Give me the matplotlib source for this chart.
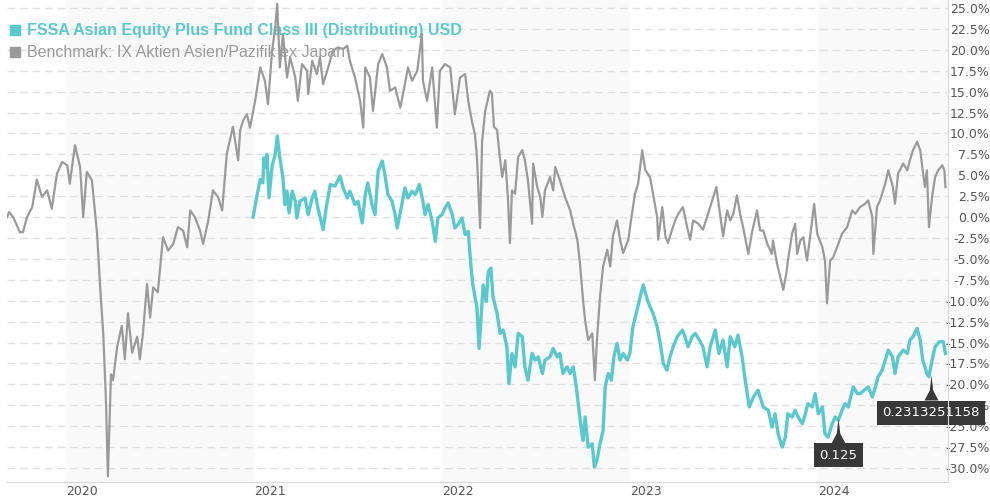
import matplotlib
matplotlib.use('Agg')
import matplotlib.pyplot as plt
from matplotlib.patches import Rectangle
from matplotlib.path import Path
import numpy as np
import pandas as pd

# --- data (performance in %, days counted from start) ---
start = pd.Timestamp('2019-09-09')
end_days = 1828

bench_days = [
    0, 4, 12, 25, 31, 39, 49, 58, 68, 78, 87, 97, 107, 117, 122, 132, 142, 148, 155, 165,
    175, 181, 187, 192, 196, 202, 206, 214, 223, 229, 235, 243, 253, 258, 264, 272, 278, 284, 293, 303,
    313, 323, 332, 342, 350, 356, 365, 375, 381, 391, 400, 410, 418, 427, 439, 449,
    453, 459, 466, 472, 482, 492, 501, 507, 515, 521, 525, 530, 536, 544, 550, 560, 565, 573, 583, 585,
    593, 602, 608, 614, 624, 633, 643, 653, 661, 666, 676, 686, 692, 696, 705, 711, 721, 729, 738, 744,
    754, 764, 773, 779, 787, 797, 806, 808, 816, 826, 835, 841, 851, 861, 870, 880, 890, 896, 903, 909,
    913, 919, 923, 929, 938,
    942, 946, 952, 958, 962, 968, 973, 977, 981, 987, 993, 1001, 1006, 1012, 1020, 1022, 1030, 1036, 1040, 1045,
    1055, 1061, 1065, 1074, 1084, 1094, 1100, 1108, 1113, 1119, 1123, 1129, 1137, 1142, 1146, 1152, 1158, 1166, 1172, 1177,
    1185, 1191, 1197, 1207, 1214, 1220, 1226, 1234, 1240, 1249, 1255, 1263, 1265, 1273, 1279, 1284, 1292, 1298, 1304, 1313,
    1321, 1327, 1333, 1343, 1352, 1362, 1372, 1378, 1385, 1391, 1399, 1405, 1411, 1418,
    1424, 1430, 1440, 1448, 1457, 1463, 1469, 1477, 1486, 1488, 1496, 1502, 1508, 1514, 1517, 1525, 1531, 1535, 1541, 1547,
    1554, 1560, 1568, 1574, 1584, 1589, 1593, 1599, 1605, 1615, 1622, 1632, 1642, 1648, 1657, 1667, 1673, 1681, 1683, 1690,
    1696, 1706, 1712, 1721, 1725, 1731, 1741, 1749, 1754, 1760, 1768, 1774, 1779, 1783, 1787, 1791, 1797, 1803, 1809, 1817,
    1821, 1823,
]
bench_vals = [
    0.0, 0.6, 0.0, -1.8, -1.8, 0.0, 1.2, 4.5, 2.4, 3.2, 1.0, 5.2, 6.6, 6.2, 4.0, 8.6, 6.0, 0.0, 5.4, 4.4,
    -2.0, -8.4, -14.0, -21.5, -31.0, -18.8, -19.5, -15.5, -13.0, -17.0, -11.5, -16.2, -14.3, -17.0, -14.0, -8.0, -12.0, -8.4, -9.0, -2.4,
    -4.0, -3.2, -1.2, -1.6, -3.6, 0.8, 0.0, -1.6, -3.2, -0.4, 3.2, 2.4, 0.8, 7.6, 10.8, 6.8,
    10.4, 11.6, 12.3, 10.7, 13.9, 17.9, 16.3, 13.5, 19.9, 22.7, 25.5, 17.9, 21.9, 16.7, 19.1, 16.7, 13.9, 18.3, 17.5, 14.7,
    18.7, 17.1, 19.1, 15.9, 17.9, 19.9, 20.3, 20.1, 20.5, 18.7, 16.7, 13.9, 10.7, 17.9, 16.7, 12.7, 18.3, 19.5, 17.9, 15.1,
    15.5, 13.1, 15.9, 17.9, 16.3, 17.5, 21.9, 16.3, 13.9, 17.9, 10.7, 17.5, 18.3, 17.9, 12.3, 16.7, 17.1, 13.9, 11.5, 9.9,
    7.1, -1.3, 9.1, 12.7, 15.1,
    14.8, 10.8, 10.4, 6.8, 4.8, 6.8, 2.4, -3.1, 3.2, 2.8, 7.2, 8.0, 6.8, 4.4, -0.8, 6.4, 3.6, 2.4, 0.0, 3.2,
    4.8, 3.2, 6.0, 4.4, 2.4, 0.8, -0.8, -2.7, -5.5, -9.9, -12.3, -14.7, -13.9, -19.5, -14.7, -9.5, -5.9, -3.9, -5.9, -2.3,
    -0.4, -2.7, -4.3, -2.7, 0.4, 2.8, 4.0, 8.0, 5.6, 4.8, 2.8, 0.0, -2.7, 1.2, -2.3, -3.1, -1.5, -0.4, 0.4, 1.2,
    -1.1, -2.7, -0.4, -0.8, -1.5, 0.4, 2.4, 3.6, 0.4, -2.3, 0.8, -0.4, 0.4, 2.6,
    0.4, -1.2, -4.4, -1.6, 0.8, -1.6, -1.6, -3.2, -4.4, -2.8, -5.6, -7.1, -8.7, -6.7, -5.2, -2.0, -0.8, -4.4, -2.8, -2.4,
    -5.2, -2.4, 1.6, -2.0, -3.6, -5.2, -10.3, -5.2, -4.8, -3.2, -2.0, -1.2, 0.8, 0.4, 1.2, 1.6, 2.0, 0.0, -4.4, 1.2,
    2.0, 4.0, 5.6, 3.6, 1.6, 5.2, 6.4, 5.6, 6.8, 8.0, 9.0, 8.0, 5.6, 3.6, 5.6, -1.2, 2.4, 4.8, 5.6, 6.2,
    5.6, 3.6,
]

fund_days = [
    478, 486, 492, 497, 499, 503, 505, 509, 515, 521, 525, 530, 536, 540, 544, 548, 554, 560, 563, 569,
    579, 585, 593, 598, 604, 614, 620, 628, 637, 647, 653, 661, 666, 676, 682, 690, 696, 701, 709, 715,
    721, 729, 734, 740, 748, 754, 758, 767, 773, 779, 787, 793, 801, 808, 812, 818, 826, 832, 837, 845,
    851, 857, 865, 870, 876, 884, 890, 896, 901, 905, 913, 917, 925, 931, 935, 940, 944, 952, 958, 964,
    971, 975, 981, 987, 993, 1001, 1006, 1012, 1020, 1026, 1032, 1040, 1045, 1055, 1061, 1069, 1074, 1080, 1088, 1094,
    1100, 1106, 1109, 1115, 1119, 1123, 1129, 1137, 1141, 1146, 1152, 1158, 1162, 1168, 1174, 1179, 1185, 1191, 1197, 1205,
    1210, 1216, 1224, 1230, 1236, 1244, 1249, 1255, 1263, 1269, 1275, 1282, 1288, 1294, 1302, 1312, 1317, 1323, 1331, 1337,
    1345, 1352, 1360, 1366, 1376, 1383, 1391, 1399, 1405, 1414, 1420, 1428, 1434, 1442, 1450, 1459, 1469, 1479, 1486, 1492,
    1498, 1506, 1512, 1517, 1525, 1531, 1537, 1545, 1551, 1556, 1564, 1570, 1576, 1584, 1589, 1595, 1603, 1609, 1615, 1622,
    1628, 1634, 1644, 1652, 1657, 1665, 1673, 1681, 1687, 1692, 1700, 1706, 1712, 1720, 1725, 1731, 1741, 1749, 1754, 1760,
    1768, 1774, 1779, 1787, 1791, 1797, 1803, 1811, 1819, 1823,
]
fund_vals = [
    0.0, 2.7, 4.5, 4.1, 7.1, 5.9, 7.5, 2.3, 6.1, 7.5, 9.7, 7.1, 4.7, 1.5, 3.1, 0.5, 3.1, 1.9, -0.1, 1.9,
    2.3, 0.3, 2.3, 3.1, 1.1, -1.5, 1.1, 3.9, 3.7, 4.9, 3.5, 2.3, 3.1, 1.5, 1.9, -0.7, 2.7, 4.1, 1.5, 0.3,
    5.5, 6.7, 5.1, 2.7, 1.9, 0.3, -1.3, 1.5, 3.5, 2.3, 3.1, 2.7, 3.9, 1.9, 0.3, 1.5, -0.5, -2.9, -0.1, 0.3,
    1.1, 1.7, 0.3, -1.3, -0.9, -0.1, -2.1, -1.7, -5.7, -8.1, -10.9, -15.7, -8.1, -10.1, -6.5, -6.1, -9.5, -11.5, -13.9, -13.5,
    -15.5, -19.9, -16.3, -17.9, -13.9, -14.3, -17.9, -19.5, -16.3, -17.1, -16.7, -18.7, -17.1, -16.7, -15.7, -16.7, -16.3, -18.7, -17.9, -18.7,
    -17.9, -20.3, -21.9, -25.1, -26.7, -23.9, -27.5, -27.1, -29.9, -29.1, -27.1, -25.5, -20.3, -18.7, -19.5, -16.7, -15.1, -17.1, -16.3, -17.1,
    -16.3, -13.1, -11.1, -9.5, -8.1, -9.9, -10.7, -11.5, -13.1, -15.1, -17.5, -18.3, -16.7, -15.5, -14.3, -13.5, -14.3, -15.5, -14.3, -13.9,
    -14.7, -15.5, -17.9, -15.5, -13.5, -16.3, -14.7, -17.9, -14.3, -15.5, -14.1, -16.7, -19.5, -22.7, -21.5, -20.7, -22.7, -23.1, -25.1, -23.5,
    -25.9, -27.5, -26.3, -23.5, -23.9, -23.1, -23.9, -24.7, -23.5, -22.3, -22.7, -21.1, -23.5, -22.7, -25.9, -26.3, -24.7, -23.9, -24.3, -23.1,
    -22.3, -22.7, -20.3, -21.1, -21.1, -20.7, -20.3, -21.5, -20.3, -19.1, -18.3, -17.1, -15.9, -16.7, -18.7, -16.7, -15.9, -16.3, -14.7, -14.3,
    -13.3, -14.7, -17.1, -18.7, -19.1, -17.1, -15.5, -14.9, -14.9, -16.3,
]

# distribution flags
div_days = [1615, 1795]
div_vals = [-24.0, -18.9]
div_labels = ['0.125', '0.2313251158']

years = [2020, 2021, 2022, 2023, 2024]
shaded_years = [2020, 2022, 2024]
fund_name = 'FSSA Asian Equity Plus Fund Class III (Distributing) USD'
bench_name = 'Benchmark: IX Aktien Asien/Pazifik ex Japan'

fund_color = '#5bc8cd'
bench_color = '#9a9a9a'
text_color = '#555555'


def to_dates(days):
    return start + pd.to_timedelta(days, unit='D')


fig = plt.figure(figsize=(9.9, 5.0), dpi=100)
ax = fig.add_axes([7 / 990, 18 / 500, 941 / 990, 482 / 500])
ax.set_axisbelow(True)

for y in shaded_years:
    ax.axvspan(pd.Timestamp(f'{y}-01-01'), pd.Timestamp(f'{y + 1}-01-01'),
               color='#f9f9f9', lw=0, zorder=0.1)

ax.plot(to_dates(bench_days), bench_vals, color=bench_color, lw=1.6,
        solid_joinstyle='round', zorder=2)
ax.plot(to_dates(fund_days), fund_vals, color=fund_color, lw=2.4,
        solid_joinstyle='round', zorder=3)

# flags for the distributions
flag = Path([(0, 0), (-0.07, -0.6), (-0.28, -1), (0.28, -1), (0.07, -0.6), (0, 0)],
            [Path.MOVETO, Path.LINETO, Path.LINETO, Path.LINETO, Path.LINETO, Path.CLOSEPOLY])
for d, v, lab in zip(to_dates(div_days), div_vals, div_labels):
    ax.plot([d], [v], marker=flag, markersize=36, color='#383838', mew=0,
            lw=0, zorder=9, clip_on=False)
    ax.annotate(lab, xy=(d, v), xytext=(0, -27), textcoords='offset points',
                ha='center', va='center', color='white', fontsize=9.5,
                bbox=dict(boxstyle='square,pad=0.42', fc='#383838', ec='none'),
                zorder=10, annotation_clip=False)

# legend drawn by hand
ax.add_patch(Rectangle((10 / 990, 1 - 35 / 500), 10 / 990, 10 / 500,
                       transform=fig.transFigure, color=fund_color, zorder=1.8, clip_on=False))
ax.add_patch(Rectangle((10 / 990, 1 - 57 / 500), 10 / 990, 10 / 500,
                       transform=fig.transFigure, color=bench_color, zorder=1.8, clip_on=False))
ax.text(27 / 990, 1 - 30 / 500, fund_name, transform=fig.transFigure, va='center',
        ha='left', color=fund_color, fontsize=11.5, fontweight='bold',
        family='Liberation Sans', zorder=1.8)
ax.text(27 / 990, 1 - 52 / 500, bench_name, transform=fig.transFigure, va='center',
        ha='left', color=bench_color, fontsize=11.5, family='Liberation Sans', zorder=1.8)

ax.set_xlim(start, start + pd.Timedelta(days=end_days))
ax.set_ylim(-31.67, 25.96)

yt = np.arange(-30, 25.1, 2.5)
ax.yaxis.tick_right()
ax.set_yticks(yt)
ax.set_yticklabels([f'{v:.1f}%' for v in yt])
ax.tick_params(axis='y', length=0, pad=30, labelsize=9, labelcolor=text_color)
for lbl in ax.get_yticklabels():
    lbl.set_horizontalalignment('right')
ax.yaxis.grid(True, color='#e0e0e0', lw=1, linestyle=(0, (5.5, 3.5)))

ax.set_xticks([pd.Timestamp(f'{y}-01-01') for y in years])
ax.set_xticklabels([str(y) for y in years], ha='left')
ax.tick_params(axis='x', length=0, pad=2, labelsize=9, labelcolor=text_color)

for s in ['left', 'top']:
    ax.spines[s].set_visible(False)
ax.spines['bottom'].set_color('#d8d8d8')
ax.spines['right'].set_color('#d8d8d8')
ax.spines['right'].set_zorder(11)

plt.savefig('out.png', dpi=100)
plt.close(fig)
